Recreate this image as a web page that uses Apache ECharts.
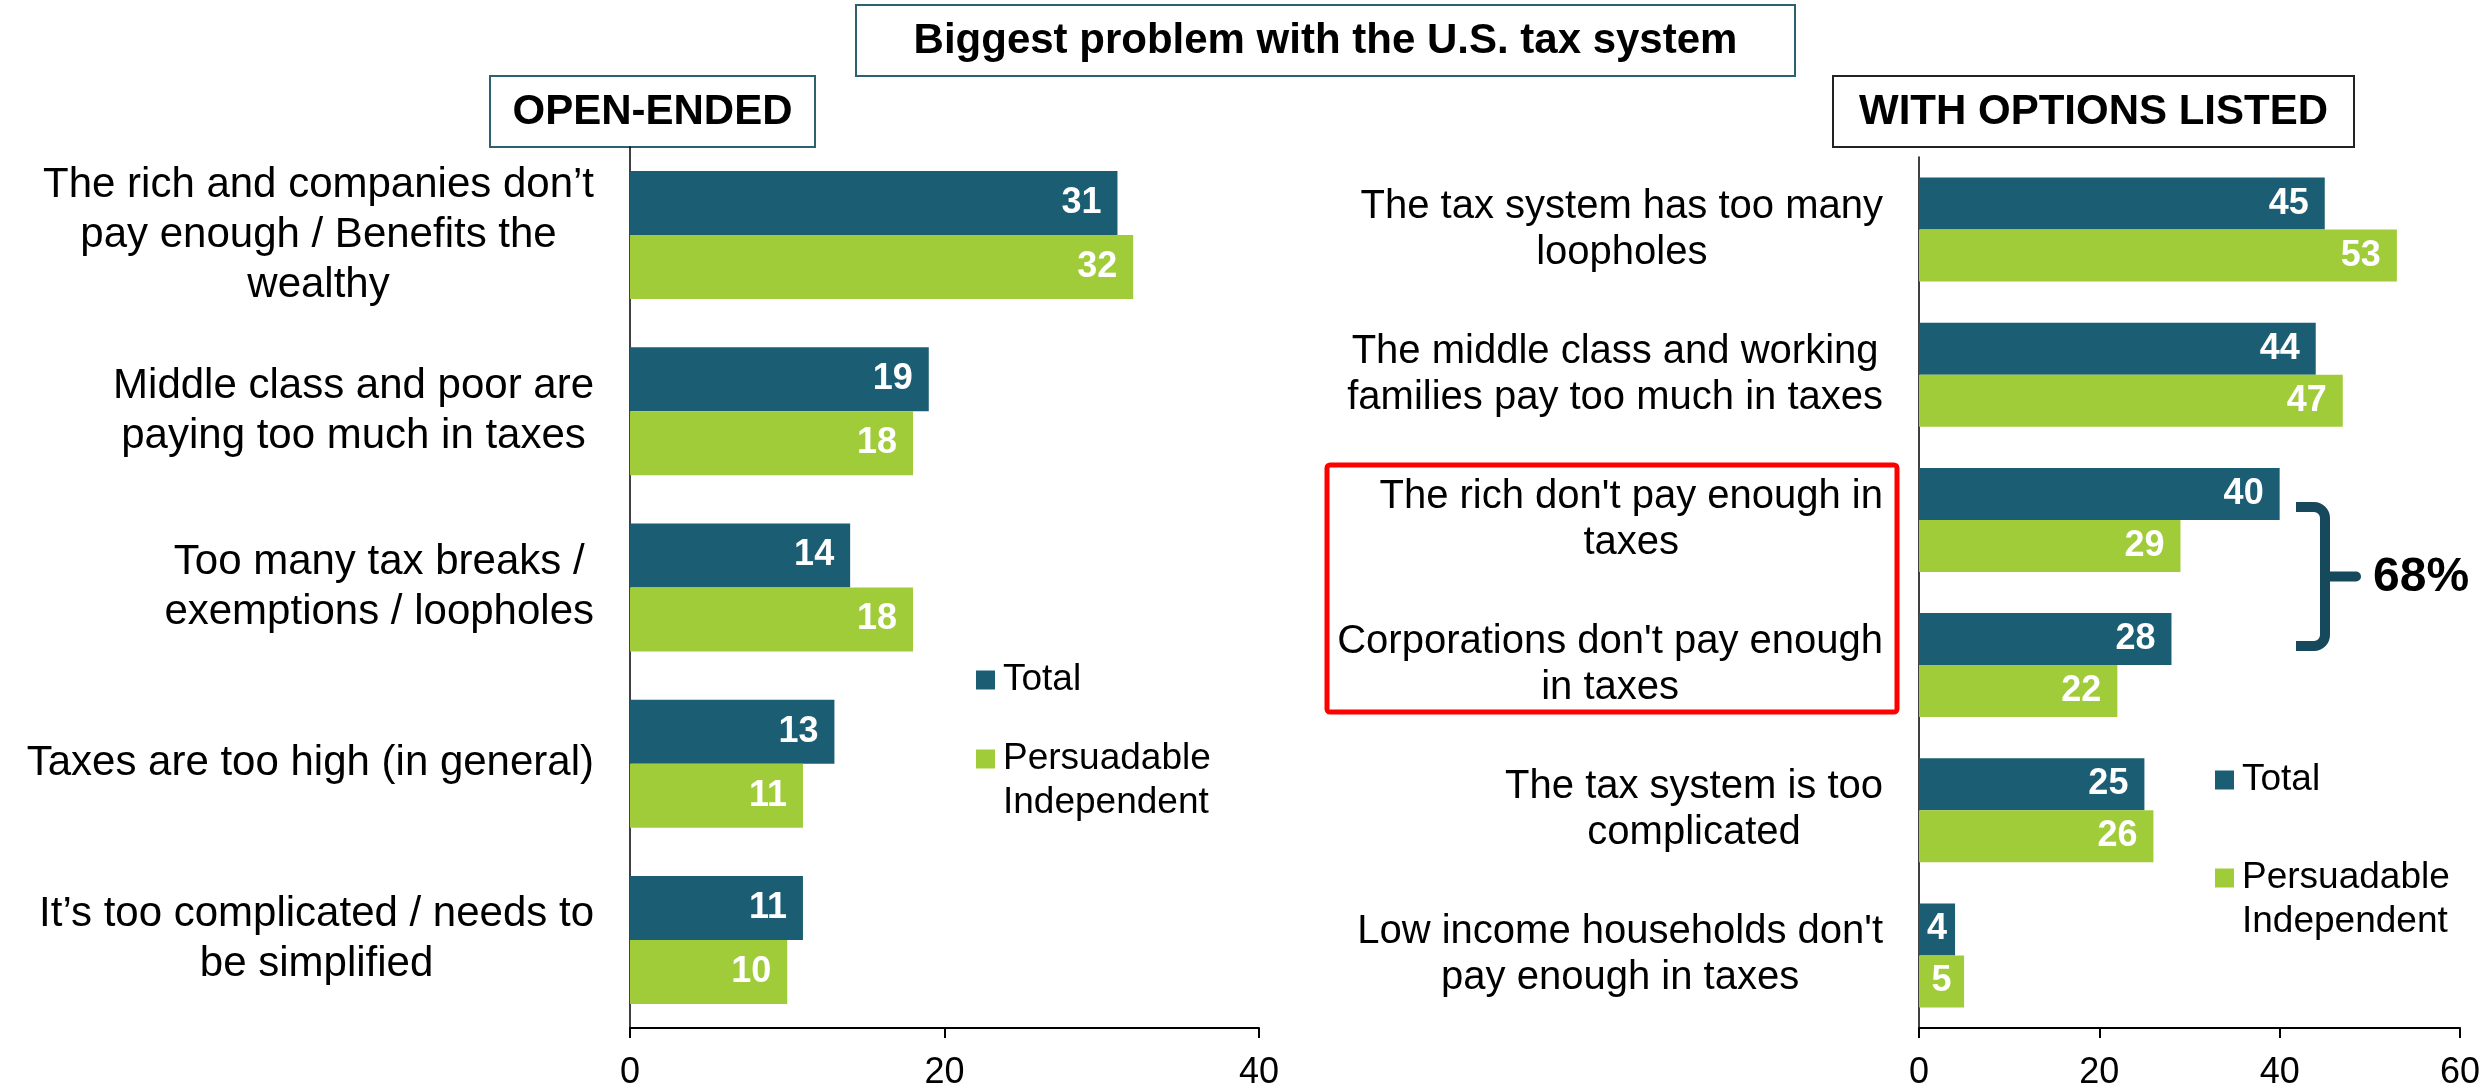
<!DOCTYPE html>
<html>
<head>
<meta charset="utf-8">
<title>Biggest problem with the U.S. tax system</title>
<script src="https://cdn.jsdelivr.net/npm/echarts@6/dist/echarts.min.js"></script>
<style>
html, body { margin: 0; padding: 0; background: #fff; }
#main { width: 2491px; height: 1091px; }
</style>
</head>
<body>
<div id="main"></div>
<script>
// open-ended answers
var openCategories = [
    'The rich and companies don\u2019t\npay enough / Benefits the\nwealthy',
    'Middle class and poor are\npaying too much in taxes',
    'Too many tax breaks /\nexemptions / loopholes',
    'Taxes are too high (in general)',
    'It\u2019s too complicated / needs to\nbe simplified'
];
var openTotal = [31, 19, 14, 13, 11];
var openPersuadable = [32, 18, 18, 11, 10];
var openTicks = [0, 20, 40];

// answers with options listed
var listedCategories = [
    'The tax system has too many\nloopholes',
    'The middle class and working\nfamilies pay too much in taxes',
    'The rich don\'t pay enough in\ntaxes',
    'Corporations don\'t pay enough\nin taxes',
    'The tax system is too\ncomplicated',
    'Low income households don\'t\npay enough in taxes'
];
var listedTotal = [45, 44, 40, 28, 25, 4];
var listedPersuadable = [53, 47, 29, 22, 26, 5];
var listedTicks = [0, 20, 40, 60];

var seriesNames = ['Total', 'Persuadable\nIndependent'];

var FONT = '"Liberation Sans", Arial, sans-serif';
var TEAL = '#1B5E73';
var GREEN = '#A0CC3A';
var BRACE = '#16495B';

var myChart = echarts.init(document.getElementById('main'));

function centeredLines(v) {
    return v.split('\n').map(function (l) { return '{c|' + l + '}'; }).join('\n');
}

// tiny bars get their number centred instead of pushed right
function barData(vals) {
    return vals.map(function (v) {
        return v < 10 ? { value: v, label: { position: 'inside' } } : v;
    });
}

var valueLabel = {
    show: true,
    position: 'insideRight',
    distance: 16,
    color: '#fff',
    fontSize: 36,
    fontWeight: 'bold',
    fontFamily: FONT
};

function xAxisFor(gridIndex, ticks) {
    return {
        type: 'value',
        gridIndex: gridIndex,
        min: ticks[0],
        max: ticks[ticks.length - 1],
        interval: ticks[1] - ticks[0],
        splitLine: { show: false },
        axisLine: { show: true, lineStyle: { color: '#000', width: 2 } },
        axisTick: { show: true, length: 10, lineStyle: { color: '#000', width: 2 } },
        axisLabel: { color: '#000', fontSize: 36, fontFamily: FONT, margin: 27 }
    };
}

function yAxisFor(gridIndex, cats, size, lh) {
    return {
        type: 'category',
        gridIndex: gridIndex,
        inverse: true,
        data: cats,
        axisLine: { show: true, lineStyle: { color: '#000', width: 1.5 } },
        axisTick: { show: false },
        axisLabel: {
            color: '#000',
            fontSize: size,
            lineHeight: lh,
            fontFamily: FONT,
            margin: 36,
            formatter: centeredLines,
            rich: { c: { align: 'center', fontSize: size, lineHeight: lh, fontFamily: FONT, color: '#000' } }
        }
    };
}

function legendAt(left, top, gap) {
    return {
        orient: 'vertical',
        left: left,
        top: top,
        padding: 0,
        itemWidth: 19,
        itemHeight: 19,
        itemGap: gap,
        icon: 'rect',
        selectedMode: false,
        data: seriesNames,
        // leading empty line keeps the marker level with the first line
        formatter: function (name) { return name.indexOf('\n') >= 0 ? '\n' + name : name; },
        textStyle: { color: '#000', fontSize: 37, lineHeight: 44, fontFamily: FONT, padding: [0, 0, 0, 3] }
    };
}

function boxWithText(x, y, w, h, stroke, text) {
    return [{
        type: 'rect',
        shape: { x: x, y: y, width: w, height: h },
        style: { fill: '#fff', stroke: stroke, lineWidth: 2 }
    }, {
        type: 'text',
        style: {
            text: text, x: x + w / 2, y: y + h / 2 + 1,
            align: 'center', verticalAlign: 'middle',
            textAlign: 'center', textVerticalAlign: 'middle',
            fill: '#000', fontSize: 42, fontWeight: 'bold', fontFamily: FONT
        }
    }];
}

// curly brace made of straight pieces and two rounded corners
function brace(x0, yTop, xSpine, yBottom, xTip, r, w) {
    var yMid = (yTop + yBottom) / 2;
    var st = { stroke: BRACE, lineWidth: w, fill: null };
    return [
        { type: 'line', shape: { x1: x0, y1: yTop, x2: xSpine - r, y2: yTop }, style: st },
        { type: 'arc', shape: { cx: xSpine - r, cy: yTop + r, r: r, startAngle: -Math.PI / 2, endAngle: 0, clockwise: true }, style: st },
        { type: 'line', shape: { x1: xSpine, y1: yTop + r, x2: xSpine, y2: yBottom - r }, style: st },
        { type: 'arc', shape: { cx: xSpine - r, cy: yBottom - r, r: r, startAngle: 0, endAngle: Math.PI / 2, clockwise: true }, style: st },
        { type: 'line', shape: { x1: xSpine - r, y1: yBottom, x2: x0, y2: yBottom }, style: st },
        { type: 'line', shape: { x1: xSpine, y1: yMid, x2: xTip, y2: yMid }, style: { stroke: BRACE, lineWidth: w, lineCap: 'round' } }
    ];
}

var option = {
    backgroundColor: '#fff',
    animation: false,
    textStyle: { fontFamily: FONT },
    grid: [
        { left: 630, top: 147, width: 629, height: 881 },
        { left: 1919, top: 157, width: 541, height: 872 }
    ],
    xAxis: [xAxisFor(0, openTicks), xAxisFor(1, listedTicks)],
    yAxis: [
        yAxisFor(0, openCategories, 42, 50),
        yAxisFor(1, listedCategories, 40, 46)
    ],
    legend: [legendAt(976, 658, -9), legendAt(2215, 758, 10)],
    series: [{
        name: seriesNames[0], type: 'bar', xAxisIndex: 0, yAxisIndex: 0,
        data: barData(openTotal), barWidth: 64, barGap: '0%',
        itemStyle: { color: TEAL }, label: valueLabel
    }, {
        name: seriesNames[1], type: 'bar', xAxisIndex: 0, yAxisIndex: 0,
        data: barData(openPersuadable), barWidth: 64, barGap: '0%',
        itemStyle: { color: GREEN }, label: valueLabel
    }, {
        name: seriesNames[0], type: 'bar', xAxisIndex: 1, yAxisIndex: 1,
        data: barData(listedTotal), barWidth: 52, barGap: '0%',
        itemStyle: { color: TEAL }, label: valueLabel
    }, {
        name: seriesNames[1], type: 'bar', xAxisIndex: 1, yAxisIndex: 1,
        data: barData(listedPersuadable), barWidth: 52, barGap: '0%',
        itemStyle: { color: GREEN }, label: valueLabel
    }],
    graphic: [].concat(
        boxWithText(856, 5, 939, 71, '#2E6170', 'Biggest problem with the U.S. tax system'),
        boxWithText(490, 76, 325, 71, '#2E6170', 'OPEN-ENDED'),
        boxWithText(1833, 76, 521, 71, '#222', 'WITH OPTIONS LISTED'),
        [{
            type: 'rect',
            shape: { x: 1327, y: 465, width: 570, height: 247, r: 3 },
            style: { fill: null, stroke: '#FF0000', lineWidth: 5 }
        }],
        brace(2296, 507, 2325, 646, 2356, 11, 10),
        [{
            type: 'text',
            style: {
                text: '68%', x: 2373, y: 578,
                align: 'left', verticalAlign: 'middle',
                textAlign: 'left', textVerticalAlign: 'middle',
                fill: '#000', fontSize: 48, fontWeight: 'bold', fontFamily: FONT
            }
        }]
    )
};

option && myChart.setOption(option);
</script>
</body>
</html>
